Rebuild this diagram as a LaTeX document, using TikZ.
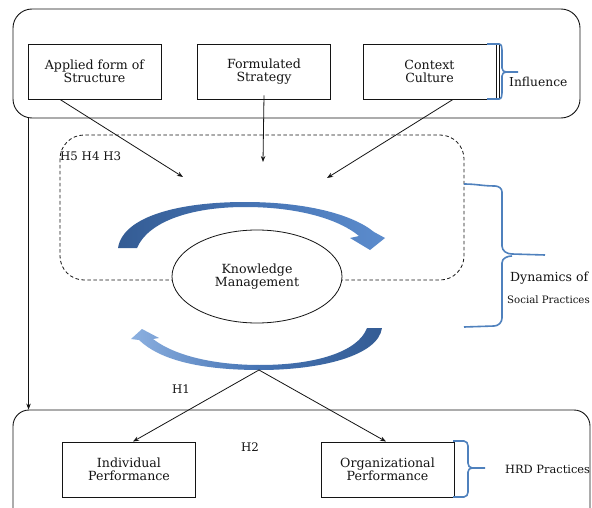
\documentclass[tikz,border=0pt]{standalone}
\usepackage{fontspec}
\setmainfont{DejaVu Serif}
\usetikzlibrary{arrows.meta,shapes.geometric}
\definecolor{brace}{RGB}{79,129,189}
\definecolor{kmdark}{RGB}{52,92,148}
\definecolor{kmmid}{RGB}{70,116,180}
\definecolor{kmhead}{RGB}{92,140,205}
\definecolor{kmlight}{RGB}{140,176,224}
\definecolor{ink}{RGB}{20,20,20}
\tikzset{
  txt/.style={font=\fontsize{12.6}{13.5}\selectfont, text=ink, align=center},
  box/.style={draw=ink, line width=0.9pt, txt, minimum width=133pt, minimum height=55pt, inner sep=2pt},
  container/.style={draw=ink, line width=0.9pt, rounded corners=19pt},
  arr/.style={draw=ink, line width=0.8pt, -{Stealth[length=6pt,width=4.5pt]}},
  bracebar/.style={draw=brace, line width=1.6pt, line join=round},
  lbl/.style={font=\fontsize{11.8}{13}\selectfont, text=ink, inner sep=0pt}
}
\begin{document}
\begin{tikzpicture}[x=1pt,y=-1pt]
\clip (0,0) rectangle (592,508);
\fill[white] (0,0) rectangle (592,508);

% containers
\node[container, minimum width=567pt, minimum height=109pt] (topbox) at (296.5,63.5) {};
\node[container, rounded corners=16pt, minimum width=577pt, minimum height=120pt] (botbox) at (301.5,470) {};

% dashed social practice area
\draw[ink, line width=0.8pt, dash pattern=on 3.5pt off 2.5pt, rounded corners=24pt]
  (60,135) rectangle (464,280);

% top boxes
\node[box] (applied) at (94.5,71.5) {Applied form of\\Structure};
\node[box] (formulated) at (264,71.5) {Formulated\\Strategy};
\node[box] (context) at (429.5,71.5) {Context\\Culture};
\draw[ink, line width=0.8pt] ([xshift=2.5pt]context.north east) -- ([xshift=2.5pt]context.south east);

% Influence brace
\draw[bracebar] (487,44) -- (499,44) to[out=0,in=90] (502,50) -- (502,68) to[out=-90,in=180] (506,72) -- (518,72);
\draw[bracebar] (506,72) to[out=180,in=90] (502,76) -- (502,93) to[out=-90,in=0] (499,99) -- (487,99);
\node[lbl, font=\fontsize{12.3}{13}\selectfont, anchor=west] (influence) at (509,82) {Influence};

% hypotheses
\node[lbl, anchor=west] (h543) at (60,156) {H5 H4 H3};

% knowledge management ellipse
\node[ellipse, draw=ink, line width=0.8pt, fill=white, minimum width=170pt, minimum height=93pt, txt] (km) at (257,276.5) {Knowledge\\Management};

% arrows from top boxes
\coordinate (t1) at (183,177);
\coordinate (t2) at (263,162);
\coordinate (t3) at (327,178);
\draw[arr] ([xshift=-34.5pt]applied.south) -- (t1);
\draw[arr] ([yshift=4pt]formulated.south) -- (t2);
\draw[arr] ([xshift=23.5pt]context.south) -- (t3);

% blue cyclic arrows
\shade[left color=kmdark, right color=kmhead, middle color=kmmid]
  (118,248) .. controls (123,216) and (180,202) .. (245,202)
  .. controls (305,202) and (352,214) .. (374,232)
  -- (385,238) -- (370,250) -- (350,238) -- (359,236)
  .. controls (340,220) and (300,207) .. (245,207)
  .. controls (190,207) and (148,222) .. (137,248) -- cycle;
\shade[left color=kmlight, right color=kmdark, middle color=kmmid]
  (382,328) .. controls (378,356) and (320,370) .. (260,370)
  .. controls (200,370) and (160,360) .. (139,340)
  -- (131,339) -- (142,329) -- (159,338) -- (153,339)
  .. controls (175,356) and (215,365) .. (260,365)
  .. controls (315,365) and (358,352) .. (367,328) -- cycle;

% Dynamics brace
\draw[bracebar] (464,184) to[out=0,in=180] (495,186) to[out=0,in=90] (502,192) -- (502,246) to[out=-90,in=180] (512,254) -- (545,255);
\draw[bracebar] (512,256) to[out=180,in=90] (502,263) -- (502,318) to[out=-90,in=0] (494,326) -- (464,327);
\node[lbl, font=\fontsize{12.5}{13}\selectfont, anchor=west] (dyn) at (510,278) {Dynamics of};
\node[lbl, font=\fontsize{10.2}{12}\selectfont, anchor=west] (soc) at (507,300) {Social Practices};

% left vertical arrow
\draw[arr] ([xshift=16pt]topbox.south west) -- ([xshift=16pt]botbox.north west);

% bottom boxes
\node[box] (individual) at (129,469.5) {Individual\\Performance};
\node[box] (organizational) at (387.5,469.5) {Organizational\\Performance};

% lines from arc vertex
\coordinate (v) at (259,370);
\draw[arr] (v) -- ([xshift=4pt]individual.north);
\draw[arr] (v) -- ([xshift=-1.5pt]organizational.north);

\node[lbl, anchor=west] (h1) at (172,389) {H1};
\node[lbl, anchor=west] (h2) at (241,447) {H2};

% HRD brace
\draw[bracebar] (453,441) -- (464,441) to[out=0,in=90] (468,446) -- (468,463) to[out=-90,in=180] (472,468) -- (485,468);
\draw[bracebar] (472,468) to[out=180,in=90] (468,472) -- (468,492) to[out=-90,in=0] (464,497) -- (453,497);
\node[lbl, font=\fontsize{11.4}{13}\selectfont, anchor=west] (hrd) at (505,469) {HRD Practices};
\end{tikzpicture}
\end{document}
